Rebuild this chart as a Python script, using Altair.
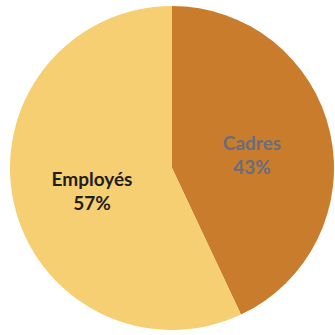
import altair as alt
import pandas as pd

categories = ["Cadres", "Employés"]
values = [43, 57]
fill_colors = ["#C97D2C", "#F6CF72"]
text_colors = ["#6A6C7E", "#1E1E1E"]

df = pd.DataFrame({"cat": categories, "val": values, "order": [0, 1]})

base = alt.Chart(df).encode(
    theta=alt.Theta("val:Q", stack=True),
    order=alt.Order("order:Q"),
)

pie = base.mark_arc(outerRadius=162, x=172, y=168).encode(
    color=alt.Color("cat:N", scale=alt.Scale(domain=categories, range=fill_colors), legend=None)
)

labels = base.transform_calculate(
    label="datum.cat + '\\n' + datum.val + '%'"
).mark_text(
    radius=82, x=172, y=168, dy=-6, font="Lato", fontWeight="bold", fontSize=19,
    lineBreak="\n", align="center", baseline="middle", lineHeight=24
).encode(
    text="label:N",
    color=alt.Color("cat:N", scale=alt.Scale(domain=categories, range=text_colors), legend=None),
)

chart = (
    alt.layer(pie, labels)
    .resolve_scale(color="independent")
    .properties(width=335, height=335, padding=0, autosize="none", background="white")
    .configure_view(stroke=None)
)

chart.save("out.html", embed_options={"renderer": "svg", "actions": False})
